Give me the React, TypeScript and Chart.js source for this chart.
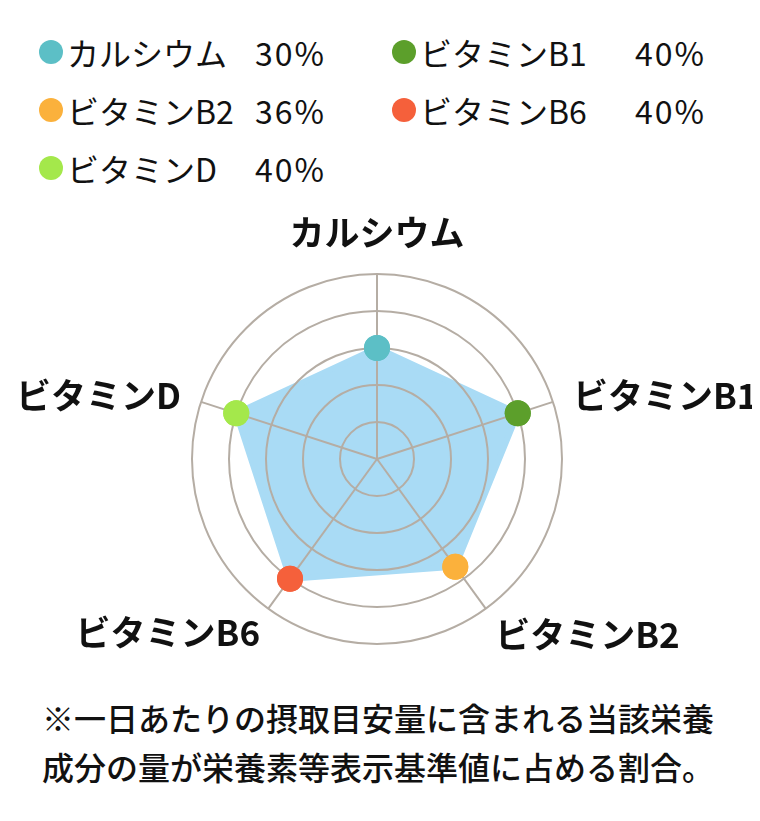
import React, { useRef, useEffect } from "react";
import { Chart, registerables, Plugin } from "chart.js";

Chart.register(...registerables);

const labels = ["カルシウム", "ビタミンB1", "ビタミンB2", "ビタミンB6", "ビタミンD"];
const values = [30, 40, 36, 40, 40];
const pointColors = ["#5cbfc6", "#5c9f2b", "#fbb13c", "#f5603b", "#a4e84b"];
const scaleMax = 50;
const scaleStep = 10;

const FONT = "'Noto Sans CJK JP', 'Noto Sans', sans-serif";

// where each axis label sits: top one beyond the outer ring, the others from the centre
const labelGap = (i: number) => [41, 206, 201, 199, 206][i];

// axis labels, placed from the scale's own point positions
const axisLabels: Plugin = {
  id: "axisLabels",
  afterDraw(chart) {
    const scale: any = chart.scales.r;
    const ctx = chart.ctx;
    ctx.save();
    ctx.font = `bold 35px ${FONT}`;
    ctx.fillStyle = "#111";
    ctx.textBaseline = "middle";
    labels.forEach((text, i) => {
      const deg = Math.round((scale.getIndexAngle(i) * 180) / Math.PI) % 360;
      const p = scale.getPointPosition(i, deg === 0 ? scale.drawingArea + labelGap(i) : labelGap(i));
      ctx.textAlign = deg === 0 || deg === 180 ? "center" : deg < 180 ? "left" : "right";
      const y = deg > 90 && deg < 270 ? p.y + 13 : p.y;
      ctx.fillText(text, p.x, y);
    });
    ctx.restore();
  },
};

// grid is drawn above the fill, so the dots are drawn again on top of it
const pointsOnTop: Plugin = {
  id: "pointsOnTop",
  afterDraw(chart) {
    const meta = chart.getDatasetMeta(0);
    meta.data.forEach((pt: any) => pt.draw(chart.ctx, chart.chartArea));
  },
};

function RadarChart() {
  const canvas = useRef<HTMLCanvasElement>(null);
  const chart = useRef<Chart>();

  useEffect(() => {
    const ctx = canvas.current!.getContext("2d");
    if (!ctx) return;

    chart.current = new Chart(ctx, {
      type: "radar",
      data: {
        labels,
        datasets: [
          {
            data: values,
            backgroundColor: "#a9dbf5",
            borderColor: "#a9dbf5",
            borderWidth: 6,
            fill: true,
            pointRadius: 13,
            pointHoverRadius: 13,
            pointBorderWidth: 0,
            pointBackgroundColor: pointColors,
          },
        ],
      },
      options: {
        animation: false,
        responsive: true,
        maintainAspectRatio: false,
        layout: { padding: { left: 192, right: 198, top: 89, bottom: 49 } },
        plugins: {
          legend: { display: false },
          tooltip: { enabled: false },
        },
        scales: {
          r: {
            min: 0,
            max: scaleMax,
            ticks: { display: false, stepSize: scaleStep },
            grid: { circular: true, color: "#b5ada4", lineWidth: 2, z: 1 },
            angleLines: { color: "#b5ada4", lineWidth: 2 },
            pointLabels: { display: false },
          },
        },
      },
      plugins: [axisLabels, pointsOnTop],
    });

    return () => {
      chart.current!.destroy();
    };
  }, []);

  return (
    <div style={{ position: "relative", height: 508, marginLeft: -8, marginRight: -8 }}>
      <canvas ref={canvas}>Your browser doesn't support canvas.</canvas>
    </div>
  );
}

function Legend() {
  const cells: React.ReactNode[] = [];
  labels.forEach((name, i) => {
    cells.push(
      <div key={"n" + i} style={{ display: "flex", alignItems: "center" }}>
        <span
          style={{
            display: "inline-block",
            width: 24,
            height: 24,
            borderRadius: "50%",
            background: pointColors[i],
            marginRight: 4,
          }}
        />
        <span>{name}</span>
      </div>
    );
    cells.push(
      <div key={"v" + i} style={{ display: "flex", alignItems: "center", letterSpacing: 2 }}>
        {values[i]}%
      </div>
    );
  });
  return (
    <div
      style={{
        height: 177,
        boxSizing: "border-box",
        paddingTop: 15,
        paddingLeft: 31,
        display: "grid",
        gridTemplateColumns: "216px 137px 243px auto",
        gridAutoRows: "58px",
        fontSize: 32,
        lineHeight: "58px",
        color: "#111",
      }}
    >
      {cells}
    </div>
  );
}

export default function App() {
  return (
    <div style={{ fontFamily: FONT, color: "#111", width: 744 }}>
      <Legend />
      <RadarChart />
      <div
        style={{
          paddingLeft: 34,
          fontSize: 32,
          lineHeight: "49px",
          fontWeight: 500,
        }}
      >
        ※一日あたりの摂取目安量に含まれる当該栄養
        <br />
        成分の量が栄養素等表示基準値に占める割合。
      </div>
    </div>
  );
}
